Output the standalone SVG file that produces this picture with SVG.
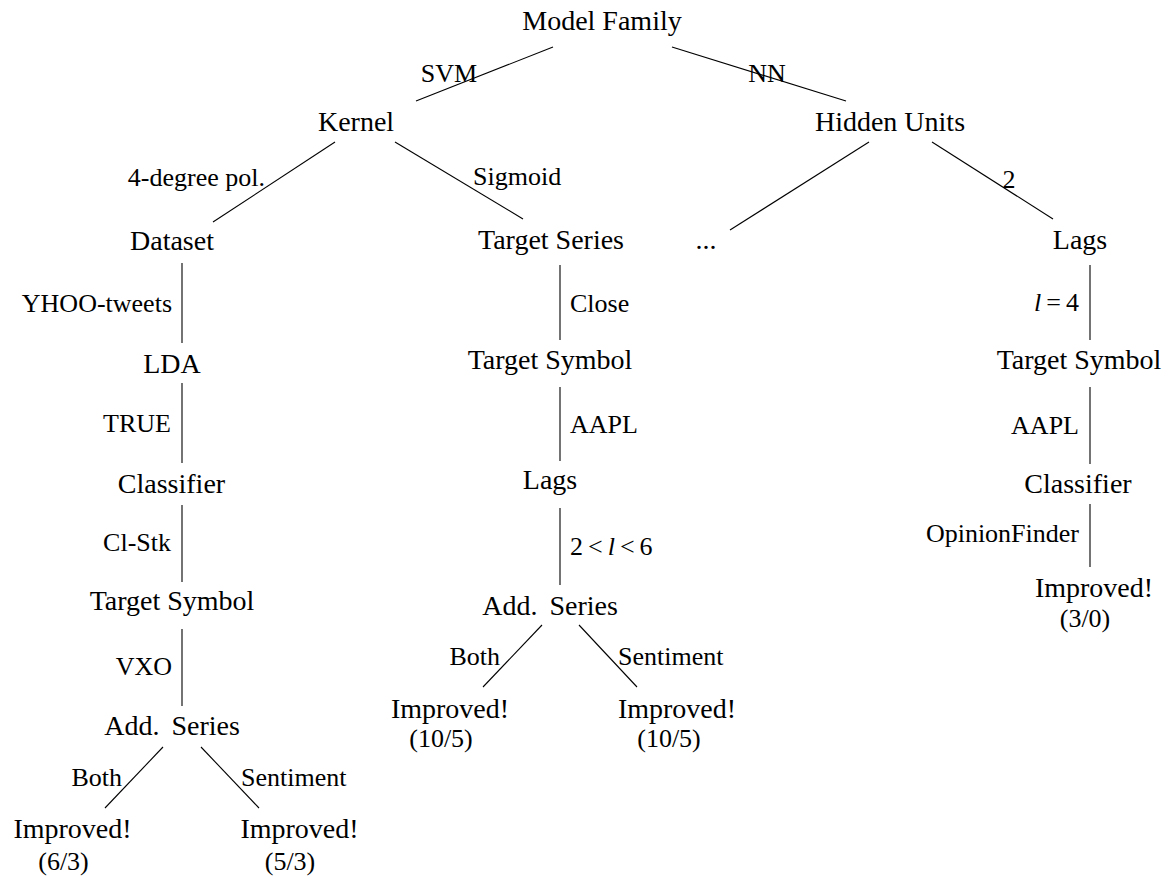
<svg xmlns="http://www.w3.org/2000/svg" width="1170" height="877" viewBox="0 0 1170 877">
<style>
text{font-family:"Liberation Serif","Times New Roman",serif;fill:#000}
.n{font-size:28px;text-anchor:middle}
.c{font-size:26px;text-anchor:middle}
.l{font-size:26px}
.e{text-anchor:end}
.s{text-anchor:start}
.m{text-anchor:middle}
.i{font-style:italic}
#connectors line{stroke:#000;stroke-width:1.1}
</style>
<rect width="1170" height="877" fill="#fff"/>
<g id="connectors">
<line x1="553" y1="47" x2="416" y2="101"/>
<line x1="672" y1="47" x2="846" y2="101"/>
<line x1="335" y1="142" x2="213" y2="222"/>
<line x1="395" y1="142" x2="523" y2="219"/>
<line x1="869" y1="142" x2="730" y2="230"/>
<line x1="932" y1="142" x2="1053" y2="219"/>
<line x1="182" y1="263" x2="182" y2="343"/>
<line x1="182" y1="383" x2="182" y2="463"/>
<line x1="182" y1="505" x2="182" y2="582"/>
<line x1="182" y1="629" x2="182" y2="706"/>
<line x1="560" y1="265" x2="560" y2="340"/>
<line x1="560" y1="387" x2="560" y2="461"/>
<line x1="560" y1="508" x2="560" y2="585"/>
<line x1="1090" y1="265" x2="1090" y2="340"/>
<line x1="1090" y1="387" x2="1090" y2="464"/>
<line x1="1090" y1="504" x2="1090" y2="567"/>
<line x1="542" y1="625" x2="483" y2="687"/>
<line x1="579" y1="625" x2="637" y2="687"/>
<line x1="163" y1="747" x2="105" y2="808"/>
<line x1="201" y1="747" x2="259" y2="808"/>
</g>
<g id="edge-labels">
<text class="l m" x="449" y="82">SVM</text>
<text class="l m" x="767" y="82">NN</text>
<text class="l e" x="265" y="186">4-degree pol.</text>
<text class="l s" x="473" y="185">Sigmoid</text>
<text class="l m" x="1009" y="188">2</text>
<text class="l e" x="172" y="312">YHOO-tweets</text>
<text class="l s" x="570" y="312">Close</text>
<text class="l e" x="1079" y="311"><tspan class="i">l</tspan><tspan dx="5">=</tspan><tspan dx="5">4</tspan></text>
<text class="l e" x="171" y="432">TRUE</text>
<text class="l s" x="570" y="433">AAPL</text>
<text class="l e" x="1079" y="434">AAPL</text>
<text class="l e" x="171" y="551">Cl-Stk</text>
<text class="l s" x="570" y="555">2<tspan dx="5">&lt;</tspan><tspan class="i" dx="5">l</tspan><tspan dx="5">&lt;</tspan><tspan dx="5">6</tspan></text>
<text class="l e" x="1079" y="542">OpinionFinder</text>
<text class="l e" x="172" y="675">VXO</text>
<text class="l e" x="500" y="665">Both</text>
<text class="l s" x="618" y="665">Sentiment</text>
<text class="l e" x="122" y="786">Both</text>
<text class="l s" x="241" y="786">Sentiment</text>
</g>
<g id="model-family"><text class="n" x="602" y="30">Model Family</text></g>
<g id="kernel"><text class="n" x="356" y="131">Kernel</text></g>
<g id="hidden-units"><text class="n" x="890" y="131">Hidden Units</text></g>
<g id="dataset"><text class="n" x="172" y="250">Dataset</text></g>
<g id="target-series"><text class="n" x="551" y="249">Target Series</text></g>
<g id="ellipsis"><text class="n" x="706" y="249">...</text></g>
<g id="lags-nn"><text class="n" x="1080" y="249">Lags</text></g>
<g id="lda"><text class="n" x="172" y="373">LDA</text></g>
<g id="target-symbol-mid"><text class="n" x="550" y="369">Target Symbol</text></g>
<g id="target-symbol-nn"><text class="n" x="1079" y="369">Target Symbol</text></g>
<g id="classifier-left"><text class="n" x="171.5" y="493">Classifier</text></g>
<g id="lags-mid"><text class="n" x="550" y="489">Lags</text></g>
<g id="classifier-nn"><text class="n" x="1078" y="493">Classifier</text></g>
<g id="target-symbol-left"><text class="n" x="172" y="610">Target Symbol</text></g>
<g id="add-series-mid"><text class="n" x="550" y="615" style="word-spacing:5px">Add. Series</text></g>
<g id="improved-nn"><text class="n" x="1094" y="597">Improved!</text><text class="c" x="1085" y="627">(3/0)</text></g>
<g id="add-series-left"><text class="n" x="172" y="735" style="word-spacing:5px">Add. Series</text></g>
<g id="improved-mid-both"><text class="n" x="450" y="718">Improved!</text><text class="c" x="441" y="747">(10/5)</text></g>
<g id="improved-mid-sent"><text class="n" x="677" y="718">Improved!</text><text class="c" x="669" y="747">(10/5)</text></g>
<g id="improved-left-both"><text class="n" x="72.5" y="838">Improved!</text><text class="c" x="63.5" y="870">(6/3)</text></g>
<g id="improved-left-sent"><text class="n" x="299.5" y="838">Improved!</text><text class="c" x="290" y="870">(5/3)</text></g>
</svg>
